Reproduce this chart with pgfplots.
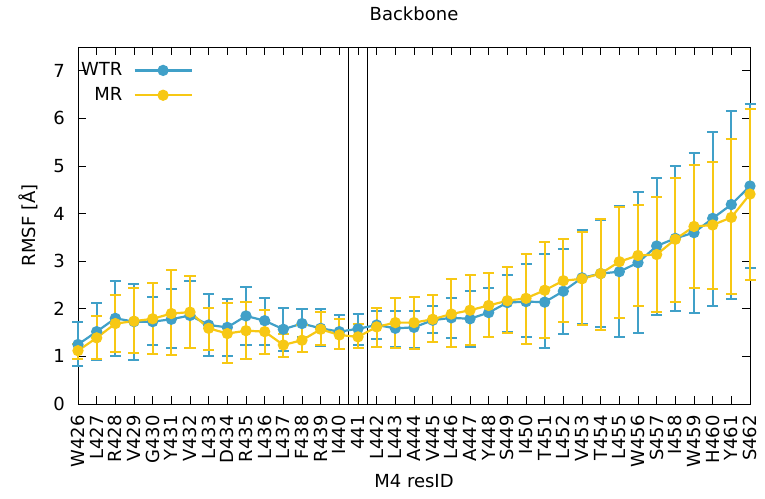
\documentclass[border=0pt]{standalone}
\usepackage{fontspec}
\setmainfont{DejaVu Sans}
\usepackage{pgfplots}
\usepackage{pgfplotstable}
\pgfplotsset{compat=1.18}
\definecolor{wtr}{RGB}{64,160,200}
\definecolor{mr}{RGB}{247,200,20}
\pgfplotstableread{
x  wy   wlo  whi  my   mlo  mhi
0  1.25 0.80 1.72 1.12 0.95 1.27
1  1.52 0.92 2.12 1.39 0.94 1.85
2  1.80 1.01 2.59 1.69 1.10 2.29
3  1.73 0.92 2.52 1.74 1.08 2.44
4  1.73 1.24 2.24 1.79 1.06 2.55
5  1.78 1.17 2.42 1.90 1.03 2.81
6  1.86 1.18 2.59 1.93 1.17 2.69
7  1.66 1.01 2.31 1.59 1.13 2.02
8  1.61 1.01 2.21 1.48 0.87 2.12
9  1.85 1.24 2.45 1.54 0.94 2.14
10 1.75 1.25 2.22 1.52 1.06 1.97
11 1.57 1.11 2.02 1.24 0.99 1.47
12 1.69 1.40 1.99 1.34 1.09 1.65
13 1.59 1.22 1.99 1.57 1.24 1.93
14 1.52 1.15 1.87 1.45 1.15 1.79
15 1.58 1.24 1.90 1.41 1.17 1.69
16 1.66 1.37 1.95 1.62 1.19 2.02
17 1.59 1.19 1.95 1.71 1.17 2.22
18 1.61 1.17 1.95 1.71 1.15 2.24
19 1.76 1.50 2.06 1.78 1.31 2.29
20 1.81 1.39 2.22 1.89 1.20 2.62
21 1.79 1.20 2.37 1.97 1.23 2.72
22 1.92 1.41 2.44 2.07 1.41 2.75
23 2.13 1.51 2.72 2.17 1.50 2.87
24 2.15 1.41 2.94 2.22 1.27 3.16
25 2.14 1.17 3.16 2.39 1.39 3.41
26 2.37 1.48 3.25 2.59 1.72 3.46
27 2.65 1.69 3.66 2.63 1.67 3.61
28 2.74 1.62 3.87 2.74 1.55 3.88
29 2.78 1.40 4.15 2.99 1.80 4.13
30 2.97 1.50 4.45 3.12 2.06 4.19
31 3.32 1.87 4.75 3.14 1.94 4.34
32 3.48 1.95 5.01 3.46 2.15 4.75
33 3.60 1.92 5.28 3.73 2.43 5.02
34 3.90 2.06 5.71 3.76 2.41 5.09
35 4.19 2.20 6.16 3.92 2.31 5.57
36 4.58 2.85 6.30 4.41 2.61 6.20
}\data
\begin{document}
\fontsize{18bp}{21bp}\selectfont
\begin{tikzpicture}
\begin{axis}[
  at={(0,0)}, anchor=south west,
  width=672bp, height=357bp, scale only axis,
  xmin=0, xmax=36, ymin=0, ymax=7.5,
  xtick={0,...,36},
  xticklabels={W426,L427,R428,V429,G430,Y431,V432,L433,D434,R435,L436,L437,F438,R439,I440,441,L442,L443,A444,V445,L446,A447,Y448,S449,I450,T451,L452,V453,T454,L455,W456,S457,I458,W459,H460,Y461,S462},
  ytick={0,1,2,3,4,5,6,7},
  tick align=inside,
  major tick length=8bp,
  clip=false,
  axis line style={line width=0.8bp},
  tick style={line width=0.8bp, black},
  /pgf/number format/assume math mode=true,
  every tick label/.append style={font=\fontsize{18bp}{21bp}\selectfont},
  x tick label style={rotate=90, anchor=east, inner sep=0bp, xshift=-11bp},
  y tick label style={inner sep=0bp, xshift=-13bp},
  title={Backbone},
  title style={at={(0.5,1)}, anchor=center, yshift=27bp, font=\fontsize{18bp}{21bp}\selectfont},
  xlabel={M4 resID},
  xlabel style={at={(0.5,0)}, anchor=center, yshift=-77bp, font=\fontsize{18bp}{21bp}\selectfont},
  ylabel={RMSF [Å]},
  ylabel style={at={(0,0.5)}, anchor=center, yshift=50bp, font=\fontsize{18bp}{21bp}\selectfont},
  legend plot pos=right,
  legend cell align=right,
  legend style={draw=none, fill=none, at={(0,1)}, anchor=north west, xshift=1bp, yshift=-13.3bp,
    inner sep=0bp, row sep=5bp, column sep=9bp, nodes={inner sep=2bp},
    font=\fontsize{18bp}{21bp}\selectfont},
  legend image code/.code={\draw[mark repeat=2, mark phase=2, #1] plot coordinates {(0bp,0bp) (28.5bp,0bp) (57bp,0bp)};},
]
\addplot[black, line width=0.8bp, forget plot] coordinates {(14.5,0) (14.5,7.5)};
\addplot[black, line width=0.8bp, forget plot] coordinates {(15.5,0) (15.5,7.5)};
\addplot[color=wtr, line width=2.2bp, mark=*, mark size=4.5bp, mark options={solid, fill=wtr, draw=wtr},
  error bars/.cd, y dir=both, y explicit,
  error bar style={line width=2bp, color=wtr},
  error mark options={rotate=90, mark size=5.5bp, line width=2bp, color=wtr}]
  table[x=x, y=wy, y error plus expr=\thisrow{whi}-\thisrow{wy}, y error minus expr=\thisrow{wy}-\thisrow{wlo}] {\data};
\addlegendentry{WTR}
\addplot[color=mr, line width=2.2bp, mark=*, mark size=4.5bp, mark options={solid, fill=mr, draw=mr},
  error bars/.cd, y dir=both, y explicit,
  error bar style={line width=2bp, color=mr},
  error mark options={rotate=90, mark size=5.5bp, line width=2bp, color=mr}]
  table[x=x, y=my, y error plus expr=\thisrow{mhi}-\thisrow{my}, y error minus expr=\thisrow{my}-\thisrow{mlo}] {\data};
\addlegendentry{MR}
\end{axis}
\pgfresetboundingbox
\path (-78bp,-95bp) rectangle (687bp,404bp);
\end{tikzpicture}
\end{document}
